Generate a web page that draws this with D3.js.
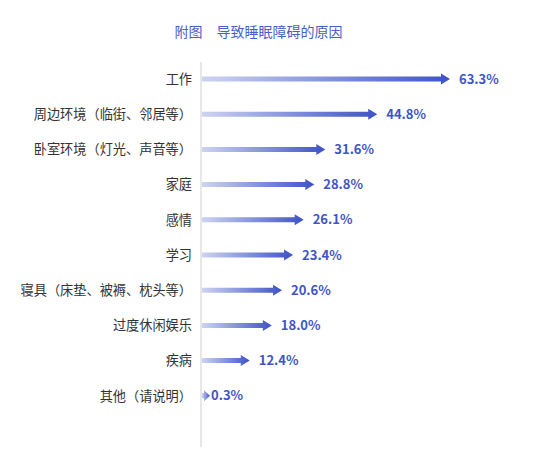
<!DOCTYPE html>
<html>
<head>
<meta charset="utf-8">
<script src="https://cdn.jsdelivr.net/npm/d3@7"></script>
<style>
  body { margin: 0; background: #fff; }
  text { font-family: "Noto Sans CJK SC", "Liberation Sans", sans-serif; }
</style>
</head>
<body>
<div id="chart"></div>
<script>
var categories = ["工作", "周边环境（临街、邻居等）", "卧室环境（灯光、声音等）", "家庭", "感情",
                  "学习", "寝具（床垫、被褥、枕头等）", "过度休闲娱乐", "疾病", "其他（请说明）"];
var values = [63.3, 44.8, 31.6, 28.8, 26.1, 23.4, 20.6, 18.0, 12.4, 0.3];
var valueLabels = ["63.3%", "44.8%", "31.6%", "28.8%", "26.1%", "23.4%", "20.6%", "18.0%", "12.4%", "0.3%"];
var title = "附图\u3000导致睡眠障碍的原因";

var width = 554, height = 460;
var x0 = 201;

var svg = d3.select("#chart").append("svg")
  .attr("width", width)
  .attr("height", height);

var x = d3.scaleLinear().domain([0, 63.3]).range([x0, 450]);
var y = d3.scaleBand().domain(categories).range([61.4, 413.4]).padding(0);

var grad = svg.append("defs").append("linearGradient")
  .attr("id", "barGrad")
  .attr("x1", "0%").attr("x2", "100%").attr("y1", "0%").attr("y2", "0%");
grad.append("stop").attr("offset", "0%").attr("stop-color", "#cdd4f1");
grad.append("stop").attr("offset", "100%").attr("stop-color", "#3d52c6");

svg.append("text")
  .attr("x", 258.5).attr("y", 37)
  .attr("text-anchor", "middle")
  .attr("font-size", 14)
  .attr("fill", "#4a5ec6")
  .text(title);

// axis line
svg.append("line")
  .attr("x1", x0).attr("x2", x0)
  .attr("y1", 62).attr("y2", 447)
  .attr("stroke", "#cfcfcf").attr("stroke-width", 1);

var rows = svg.selectAll("g.row")
  .data(categories)
  .enter().append("g")
  .attr("class", "row")
  .attr("transform", function(d) { return "translate(0," + (y(d) + y.bandwidth() / 2) + ")"; });

rows.append("text")
  .attr("x", 192)
  .attr("y", 0)
  .attr("dy", "0.36em")
  .attr("text-anchor", "end")
  .attr("font-size", 13.2)
  .attr("fill", "#333")
  .text(function(d) { return d; });

function tipX(i) { return Math.max(x(values[i]), x0 + 9); }

rows.append("path")
  .attr("fill", "url(#barGrad)")
  .attr("d", function(d, i) {
    var tip = tipX(i);
    var start = x0 + 1;
    var head = Math.min(9, tip - start - 2);
    var s = 2.5, h = 5.5;
    return "M" + start + "," + (-s) + "L" + (tip - head) + "," + (-s) +
      "L" + (tip - head) + "," + (-h) + "L" + tip + ",0L" + (tip - head) + "," + h +
      "L" + (tip - head) + "," + s + "L" + start + "," + s + "Z";
  });

rows.append("text")
  .attr("x", function(d, i) { return tipX(i) + (values[i] < 1 ? 1 : 9); })
  .attr("y", 0)
  .attr("dy", "0.36em")
  .attr("font-family", "Liberation Sans, Arial, sans-serif")
  .attr("font-weight", "bold")
  .attr("font-size", 13)
  .attr("fill", "#3f55c6")
  .text(function(d, i) { return valueLabels[i]; });
</script>
</body>
</html>
